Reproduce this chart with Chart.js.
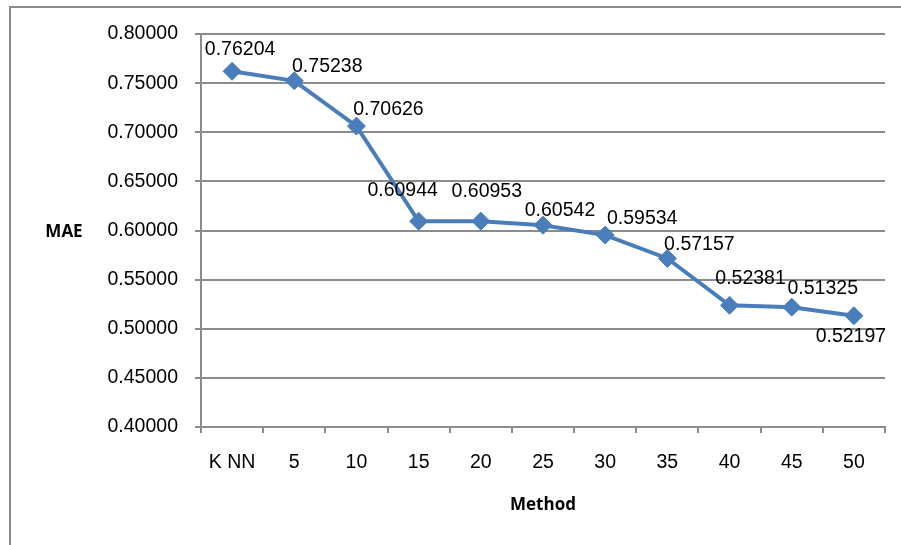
<!DOCTYPE html>
<html>
<head>
<meta charset="utf-8">
<script src="https://cdn.jsdelivr.net/npm/chart.js@4"></script>
<style>
  body { margin: 0; background: #fff; }
  #wrap { width: 901px; height: 545px; }
</style>
</head>
<body>
<div id="wrap"><canvas id="myChart" width="901" height="545"></canvas></div>
<script>
const ctx = document.getElementById('myChart').getContext('2d');

// data
const methods = ['K NN', '5', '10', '15', '20', '25', '30', '35', '40', '45', '50'];
const maeValues = [0.76204, 0.75238, 0.70626, 0.60944, 0.60953, 0.60542, 0.59534, 0.57157, 0.52381, 0.52197, 0.51325];
// label text as printed next to each point in the original (45 / 50 appear swapped there)
const pointLabels = ['0.76204', '0.75238', '0.70626', '0.60944', '0.60953', '0.60542', '0.59534', '0.57157', '0.52381', '0.51325', '0.52197'];
const yTicks = [0.40, 0.45, 0.50, 0.55, 0.60, 0.65, 0.70, 0.75, 0.80];

const blue = '#4a7ebb';
const gray = '#8c8c8c';
const arial = '"Liberation Sans", Arial, sans-serif';

// where each label sits relative to its point (dx, dy of label centre)
const labelOffsets = [[8, -22], [33, -14], [32, -16], [-16, -31], [6, -30], [17, -15], [37, -16], [32, -14], [21, -27], [31, -19], [-3, 21]];

const extras = {
  id: 'extras',
  beforeDraw(chart) {
    const c = chart.ctx;
    c.save();
    c.strokeStyle = gray;
    c.lineWidth = 2;
    c.beginPath();
    c.moveTo(10, 545);
    c.lineTo(10, 7);
    c.lineTo(901, 7);
    c.stroke();
    c.restore();
  },
  afterDatasetsDraw(chart) {
    const c = chart.ctx;
    const meta = chart.getDatasetMeta(0);
    c.save();
    c.fillStyle = '#000';
    c.font = '19.5px ' + arial;
    c.textAlign = 'center';
    c.textBaseline = 'middle';
    meta.data.forEach((pt, i) => {
      const off = labelOffsets[i];
      c.fillText(pointLabels[i], pt.x + off[0], pt.y + off[1]);
    });
    c.font = 'bold 17px "Open Sans", sans-serif';
    c.fillText('MAE', 64, 232);
    const area = chart.chartArea;
    c.fillText('Method', (area.left + area.right) / 2, 505);
    c.restore();
  }
};

const maeChart = new Chart(ctx, {
  type: 'line',
  data: {
    labels: methods,
    datasets: [{
      label: 'MAE',
      data: maeValues,
      borderColor: blue,
      backgroundColor: blue,
      borderWidth: 4,
      pointStyle: 'rectRot',
      pointRadius: 9,
      pointBorderWidth: 1,
      pointBackgroundColor: blue,
      pointBorderColor: blue,
      tension: 0
    }]
  },
  options: {
    responsive: false,
    animation: false,
    layout: { padding: { top: 34, right: 16, left: 0, bottom: 0 } },
    plugins: {
      legend: { display: false },
      tooltip: { enabled: false }
    },
    scales: {
      x: {
        offset: true,
        grid: { drawOnChartArea: false, drawTicks: true, tickLength: 6, color: gray, lineWidth: 2, offset: true },
        border: { color: gray, width: 2 },
        ticks: { color: '#000', padding: 18, font: { family: arial, size: 19.5 } },
        afterFit(scale) { scale.height = 118; }
      },
      y: {
        min: 0.4,
        max: 0.8,
        afterBuildTicks(scale) { scale.ticks = yTicks.map(v => ({ value: v })); },
        grid: { color: gray, lineWidth: 2, tickLength: 6 },
        border: { color: gray, width: 2 },
        ticks: {
          color: '#000',
          padding: 17,
          font: { family: arial, size: 19.5 },
          callback: v => Number(v).toFixed(5)
        },
        afterFit(scale) { scale.width = 201; }
      }
    }
  },
  plugins: [extras]
});
</script>
</body>
</html>
